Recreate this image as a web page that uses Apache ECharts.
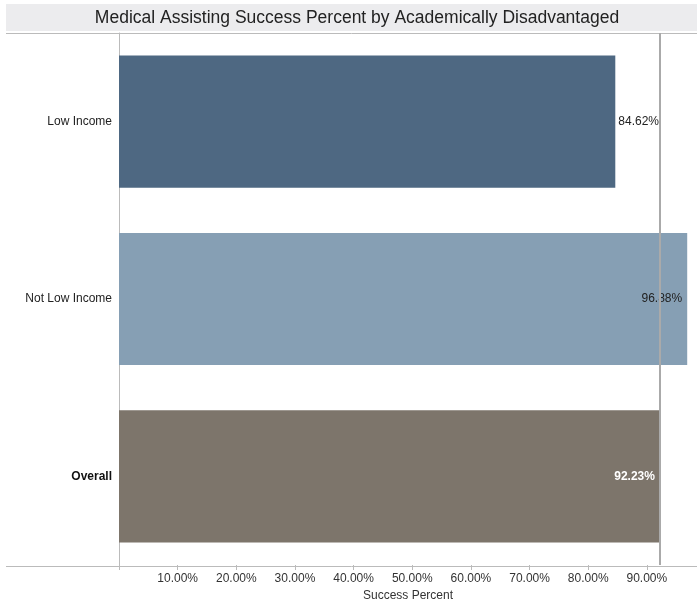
<!DOCTYPE html>
<html><head><meta charset="utf-8">
<script src="https://cdn.jsdelivr.net/npm/echarts@6/dist/echarts.min.js"></script>
<style>html,body{margin:0;padding:0;background:#fff}#c{width:697px;height:607px}</style>
</head><body><div id="c"></div>
<script>
const titleText = 'Medical Assisting Success Percent by Academically Disadvantaged';
const categories = ['Low Income', 'Not Low Income', 'Overall'];
const values = [84.62, 96.88, 92.23];
const colors = ['#4E6882', '#869FB4', '#7D756B'];
const referenceValue = 92.23;
const xTicks = [0, 10, 20, 30, 40, 50, 60, 70, 80, 90];
const xLabels = [10, 20, 30, 40, 50, 60, 70, 80, 90];
const xAxisName = 'Success Percent';

const chart = echarts.init(document.getElementById('c'), null, {renderer: 'canvas'});
const font = '"Liberation Sans", Arial, sans-serif';
const data = values.map((v, i) => {
  const isOverall = categories[i] === 'Overall';
  const isLow = i === 0;
  return {
    value: v,
    itemStyle: {color: colors[i]},
    label: {
      show: true,
      position: isLow ? 'right' : 'insideRight',
      distance: isLow ? 3 : 5,
      color: isOverall ? '#ffffff' : '#222',
      fontWeight: isOverall ? 'bold' : 'normal',
      fontSize: 12,
      fontFamily: font,
      formatter: p => p.value.toFixed(2) + '%'
    }
  };
});

chart.setOption({
  animation: false,
  textStyle: {fontFamily: font},
  grid: {left: 119, right: 0, top: 33, bottom: 41, containLabel: false},
  graphic: [
    {type: 'rect', shape: {x: 6, y: 4, width: 691, height: 27}, style: {fill: '#ECECEE'}, z: 0},
    {type: 'text', x: 357, y: 18, style: {text: titleText, fill: '#222', font: '17.5px ' + font, textAlign: 'center', textVerticalAlign: 'middle'}, z: 1},
    {type: 'line', shape: {x1: 6, y1: 33.5, x2: 697, y2: 33.5}, style: {stroke: '#BBBBBB', lineWidth: 1}, z: 1},
    {type: 'line', shape: {x1: 6, y1: 566.5, x2: 697, y2: 566.5}, style: {stroke: '#BBBBBB', lineWidth: 1}, z: 1}
  ],
  xAxis: {
    type: 'value', min: 0, max: 98.55, interval: 10,
    name: xAxisName, nameLocation: 'middle', nameGap: 25,
    nameTextStyle: {fontSize: 12, color: '#333', fontFamily: font},
    axisLine: {show: false},
    axisTick: {show: true, length: 5, lineStyle: {color: '#BBBBBB'}, customValues: xTicks},
    splitLine: {show: false},
    axisLabel: {
      fontSize: 12, color: '#333', margin: 8, fontFamily: font,
      customValues: xLabels,
      formatter: v => v.toFixed(2) + '%'
    }
  },
  yAxis: {
    type: 'category', data: categories, inverse: true,
    axisLine: {show: true, lineStyle: {color: '#BBBBBB'}},
    axisTick: {show: false},
    axisLabel: {
      fontSize: 12, color: '#222', margin: 7, fontFamily: font,
      formatter: v => v === 'Overall' ? '{b|' + v + '}' : v,
      rich: {b: {fontWeight: 'bold', fontSize: 12, color: '#111', fontFamily: font}}
    }
  },
  series: [{
    type: 'bar', data: data, barCategoryGap: '25.5%',
    markLine: {
      silent: true, symbol: 'none', label: {show: false},
      lineStyle: {color: '#AAAAAA', width: 2, type: 'solid'},
      data: [{xAxis: referenceValue}]
    }
  }]
});
</script></body></html>
